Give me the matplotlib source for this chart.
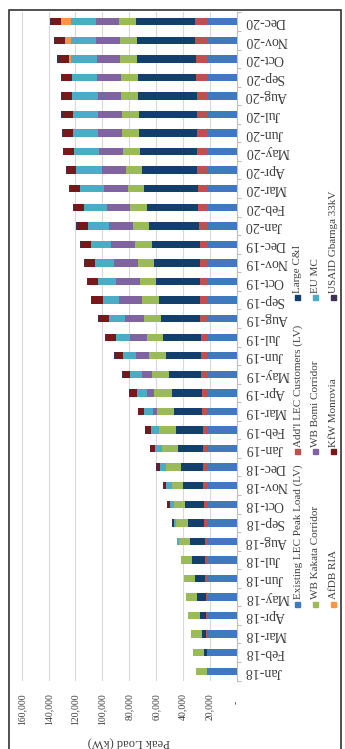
import numpy as np
import matplotlib
matplotlib.use("Agg")
import matplotlib.pyplot as plt
from matplotlib.patches import Rectangle

plt.rcParams['font.family'] = ['Liberation Serif', 'DejaVu Serif']

# monthly peak load by source, Jan-18 .. Dec-20 (kW)
months = [m + '-' + y for y in ['18', '19', '20']
          for m in ['Jan', 'Feb', 'Mar', 'Apr', 'May', 'Jun',
                    'Jul', 'Aug', 'Sep', 'Oct', 'Nov', 'Dec']]

existing = [22000, 22000, 22000, 22000, 22000, 22000, 22000, 22000, 22000, 22000, 22000, 22000,
            22000, 22000, 22000, 22000, 22000, 22000, 22000, 22000, 22000, 22000, 22000, 22000,
            22000, 22000, 22000, 22000, 22000, 22000, 22000, 22000, 22000, 22000, 22000, 22000]
addl = [300, 400, 550, 750, 1000, 1250, 1500, 1750, 2250, 2500, 2750, 3000,
        3000, 3250, 3500, 4000, 4250, 4500, 4750, 5000, 5250, 5250, 5500, 5500,
        6000, 6750, 6750, 7250, 7250, 7500, 7250, 7500, 8000, 8000, 8750, 8750]
large_ci = [0, 1750, 3500, 4750, 6500, 8000, 9500, 10750, 12000, 13750, 15250, 16750,
            18500, 20250, 21500, 22500, 24250, 26000, 27750, 29250, 30750, 32500, 34250, 35750,
            37000, 38000, 40000, 41000, 42750, 43500, 43750, 43750, 43500, 44250, 43500, 44000]
kakata = [7750, 8000, 8250, 8500, 8250, 8250, 8500, 8750, 9000, 8750, 8500, 11000,
          12000, 12000, 12500, 12750, 12250, 12500, 12250, 12500, 12250, 12250, 12000, 12250,
          12500, 12500, 12000, 12250, 12500, 12250, 12500, 12750, 12500, 12500, 12500, 12750]
bomi = [0, 0, 0, 0, 0, 0, 0, 0, 0, 0, 0, 0,
        0, 0, 2500, 5250, 7500, 9750, 12500, 14250, 17250, 17750, 17750, 17750,
        17500, 17500, 18000, 17750, 18000, 18000, 17750, 17250, 18000, 17250, 18000, 17250]
eu_mc = [0, 0, 0, 0, 0, 0, 0, 1000, 1750, 2500, 3750, 4500,
         5500, 6250, 6750, 7750, 9000, 9750, 10250, 11750, 12250, 13250, 14250, 15000,
         15750, 17000, 17750, 19000, 18250, 18250, 18750, 19250, 18500, 19000, 18250, 18750]
afdb = [0, 0, 0, 0, 0, 0, 0, 0, 0, 0, 0, 0,
        0, 0, 0, 0, 0, 0, 0, 0, 0, 0, 0, 0,
        0, 0, 0, 0, 0, 0, 0, 0, 0, 2000, 4750, 7250]
kfw = [0, 0, 0, 0, 0, 0, 0, 500, 750, 1500, 2000, 2250,
       3250, 4250, 4500, 5250, 5500, 6000, 7500, 7500, 7750, 7500, 7500, 7250,
       7250, 7250, 7250, 7250, 7500, 7250, 7250, 7250, 7500, 7500, 7500, 7250]
usaid = [0, 0, 0, 0, 0, 0, 0, 0, 500, 500, 500, 500,
         500, 500, 500, 500, 500, 500, 750, 1000, 1000, 750, 750, 1250,
         1250, 1000, 1000, 500, 1000, 1250, 1250, 1000, 1000, 1000, 1000, 750]

names = ['Existing LEC Peak Load (LV)', "Add'l LEC Customers (LV)", 'Large C&I',
         'WB Kakata Corridor', 'WB Bomi Corridor', 'EU MC',
         'AfDB RIA', 'KfW Monrovia', 'USAID Gbarnga 33kV']
series = [existing, addl, large_ci, kakata, bomi, eu_mc, afdb, kfw, usaid]
colors = ['#4179BE', '#C0504D', '#123F6B', '#9BBB59', '#8064A2',
          '#4BACC6', '#F79646', '#76191A', '#403152']

ticks = [0, 20000, 40000, 60000, 80000, 100000, 120000, 140000, 160000]

W, H = 345, 749
fig = plt.figure(figsize=(W / 100, H / 100), dpi=100)

# chart is laid on its side: months run up the page, load grows to the left
x0, x1, y0, y1 = 21.7, 236.7, 12.4, 680.6
ax = fig.add_axes([x0 / W, 1 - y1 / H, (x1 - x0) / W, (y1 - y0) / H])

pos = np.arange(len(months))
left = np.zeros(len(months))
for vals, c in zip(series, colors):
    vals = np.array(vals, dtype=float)
    ax.barh(pos, vals, left=left, height=0.4, color=c, linewidth=0, zorder=3)
    left += vals

ax.set_xlim(160000, 0)
ax.set_ylim(-0.5, len(months) - 0.5)

ax.set_xticks(ticks)
ax.set_xticklabels(['-   ' if t == 0 else f'{t:,}' for t in ticks],
                   rotation=90, fontsize=7, va='top')
ax.tick_params(axis='x', length=0, pad=9, colors='#404040')
ax.grid(axis='x', color='#D9D9D9', linewidth=0.8, zorder=0)

ax.yaxis.tick_right()
ax.set_yticks(pos)
ax.set_yticklabels(months, rotation=180, fontsize=10, va='center')
ax.set_yticks(np.arange(-0.5, len(months), 1.0), minor=True)
ax.tick_params(axis='y', which='major', length=0, pad=6, colors='#404040')
ax.tick_params(axis='y', which='minor', length=3, width=0.8, color='#BFBFBF', direction='out')

for s in ['top', 'bottom', 'left']:
    ax.spines[s].set_visible(False)
ax.spines['right'].set_color('#BFBFBF')
ax.spines['right'].set_linewidth(0.8)

fig.text(129 / W, 1 - 743 / H, 'Peak Load (kW)', rotation=180, fontsize=9,
         ha='center', va='center', color='#404040')

# legend, three entries per column, reading upwards
leg_x = [297.7, 315.5, 333.3]
leg_y = [604, 452, 298]
for i, (name, c) in enumerate(zip(names, colors)):
    cx = leg_x[i // 3]
    cy = leg_y[i % 3]
    fig.patches.append(Rectangle(((cx - 2.5) / W, 1 - (cy + 2.5) / H), 5 / W, 5 / H,
                                 transform=fig.transFigure, color=c, figure=fig))
    fig.text(cx / W, 1 - (cy - 5) / H, name, rotation=90, fontsize=8,
             ha='center', va='bottom', color='#404040')

# outer frame
fig.patches.append(Rectangle((8.5 / W, -0.02), (341 - 8.5) / W, 1.02 - 10 / H,
                             transform=fig.transFigure, fill=False,
                             edgecolor='#333333', linewidth=1.2, figure=fig))

fig.savefig('out.png', dpi=100)
